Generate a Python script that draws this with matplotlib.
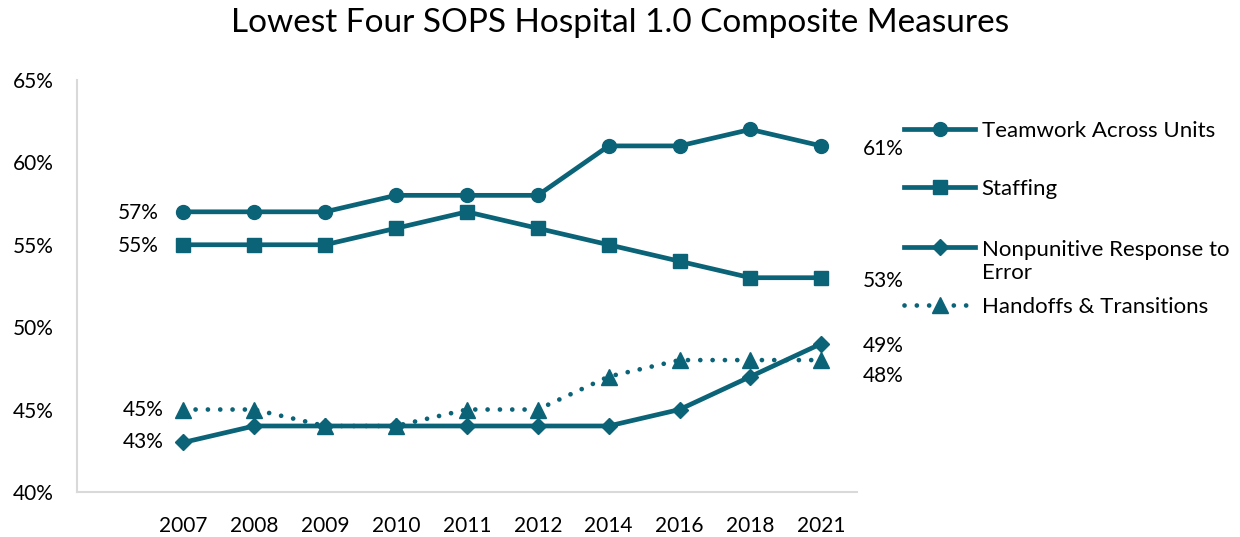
import matplotlib.pyplot as plt

years = ["2007", "2008", "2009", "2010", "2011", "2012", "2014", "2016", "2018", "2021"]
teamwork = [57, 57, 57, 58, 58, 58, 61, 61, 62, 61]
staffing = [55, 55, 55, 56, 57, 56, 55, 54, 53, 53]
nonpunitive = [43, 44, 44, 44, 44, 44, 44, 45, 47, 49]
handoffs = [45, 45, 44, 44, 45, 45, 47, 48, 48, 48]

color = "#0B6378"
plt.rcParams['font.family'] = ['Lato', 'DejaVu Sans']

fig = plt.figure(figsize=(12.4, 5.37), dpi=100)
ax = fig.add_axes([0.062, 0.084, 0.629, 0.767])

x = list(range(len(years)))
lw = 3.4
l1, = ax.plot(x, teamwork, color=color, lw=lw, marker='o', ms=10)
l2, = ax.plot(x, staffing, color=color, lw=lw, marker='s', ms=10)
l3, = ax.plot(x, nonpunitive, color=color, lw=lw, marker='D', ms=8)
l4, = ax.plot(x, handoffs, color=color, lw=lw, marker='^', ms=11, linestyle=(0, (0.01, 2.6)),
              dash_capstyle='round')

ax.set_xlim(-1.5, 9.5)
ax.set_ylim(40, 65)
ax.set_yticks(range(40, 66, 5))
ax.set_yticklabels([f"{v}%" for v in range(40, 66, 5)])
ax.set_xticks(x)
ax.set_xticklabels(years)
ax.tick_params(length=0, labelsize=15, colors='black')
ax.tick_params(axis='x', pad=17)
ax.tick_params(axis='y', pad=17)
for s in ['top', 'right']:
    ax.spines[s].set_visible(False)
for s in ['left', 'bottom']:
    ax.spines[s].set_color('#D9D9D9')
    ax.spines[s].set_linewidth(1.5)

fs = 15
ax.text(-0.35, teamwork[0] - 0.05, f"{teamwork[0]}%", ha='right', va='center', fontsize=fs)
ax.text(-0.35, staffing[0] - 0.05, f"{staffing[0]}%", ha='right', va='center', fontsize=fs)
ax.text(-0.28, handoffs[0], f"{handoffs[0]}%", ha='right', va='center', fontsize=fs)
ax.text(-0.28, nonpunitive[0], f"{nonpunitive[0]}%", ha='right', va='center', fontsize=fs)
ax.text(9.58, teamwork[-1] - 0.18, f"{teamwork[-1]}%", ha='left', va='center', fontsize=fs)
ax.text(9.58, staffing[-1] - 0.18, f"{staffing[-1]}%", ha='left', va='center', fontsize=fs)
ax.text(9.58, nonpunitive[-1] - 0.12, f"{nonpunitive[-1]}%", ha='left', va='center', fontsize=fs)
ax.text(9.58, handoffs[-1] - 0.95, f"{handoffs[-1]}%", ha='left', va='center', fontsize=fs)

# legend: one entry per box so the spacing can follow the original
entries = [
    (l1, "Teamwork Across Units", 0.774),
    (l2, "Staffing", 0.666),
    (l3, "Nonpunitive Response to\nError", 0.554),
    (l4, "Handoffs & Transitions", 0.446),
]
for handle, label, ytop in entries:
    leg = fig.legend([handle], [label], loc='upper left', bbox_to_anchor=(0.729, ytop),
                     bbox_transform=fig.transFigure, frameon=False, fontsize=16,
                     handlelength=3.2, handletextpad=0.3, borderpad=0, borderaxespad=0)
    for col in leg._legend_handle_box.get_children():
        for item in col.get_children():
            item.align = "top"

fig.suptitle("Lowest Four SOPS Hospital 1.0 Composite Measures", fontsize=24, x=0.5, y=0.985)

fig.savefig("out.png", dpi=100)
